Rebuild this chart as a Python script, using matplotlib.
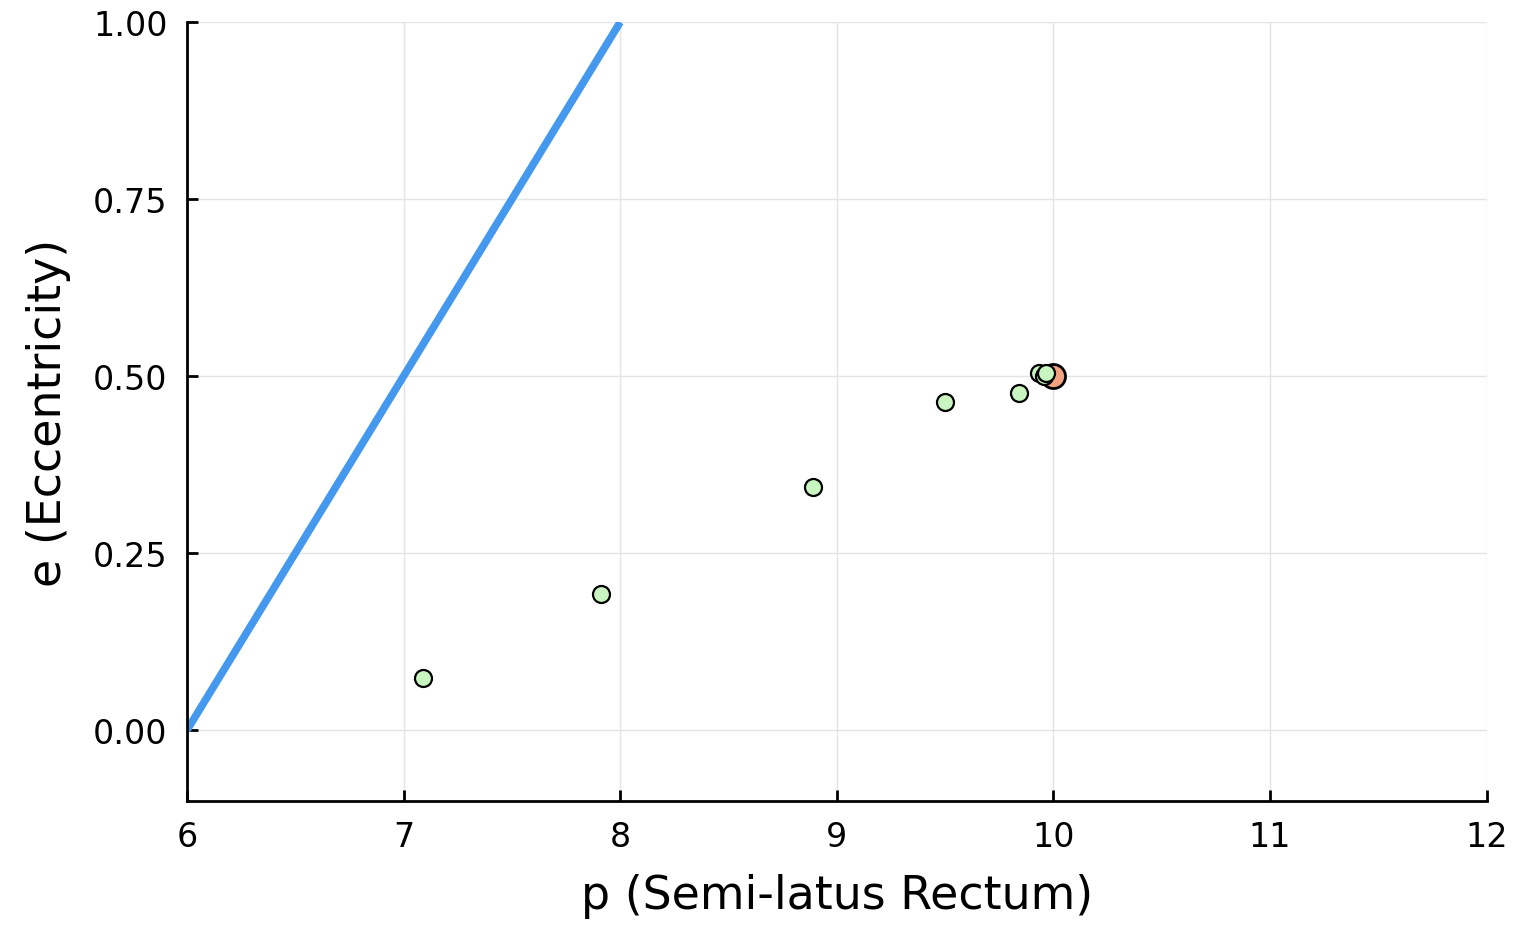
import matplotlib
matplotlib.use("Agg")
import matplotlib.pyplot as plt
import numpy as np

# separatrix e vs p (p = 6 + 2e)
sep_e = [0.0, 1.0]
sep_p = [6.0, 8.0]

# trajectory samples
traj_p = [7.09, 7.91, 8.89, 9.50, 9.84, 9.935, 9.955, 9.968]
traj_e = [0.073, 0.193, 0.344, 0.463, 0.476, 0.504, 0.500, 0.505]

# initial orbit
init_p = [10.0]
init_e = [0.5]

fig = plt.figure(figsize=(15.2, 9.28), dpi=100)
ax = fig.add_axes([0.123, 0.1358, 0.855, 0.8392])

ax.plot(sep_p, sep_e, color="#4499ee", lw=5.5, solid_capstyle="butt", zorder=2)
ax.scatter(init_p, init_e, s=300, color="#f2a27e", edgecolor="black", linewidth=2, zorder=3)
ax.scatter(traj_p, traj_e, s=150, color="#c8f5c0", edgecolor="black", linewidth=1.6, zorder=4)

ax.set_xlim(6, 12)
ax.set_ylim(-0.1, 1.0)
ax.set_xticks([6, 7, 8, 9, 10, 11, 12])
ax.set_yticks([0.0, 0.25, 0.5, 0.75, 1.0])
ax.set_yticklabels(["0.00", "0.25", "0.50", "0.75", "1.00"])
ax.grid(True, color="#e4e4e4", lw=1)
ax.set_axisbelow(True)

for s in ["top", "right"]:
    ax.spines[s].set_visible(False)
for s in ["left", "bottom"]:
    ax.spines[s].set_linewidth(2)
ax.tick_params(direction="in", length=8, width=2, pad=14, labelsize=24)

ax.set_xlabel("p (Semi-latus Rectum)", fontsize=33, labelpad=14)
ax.set_ylabel("e (Eccentricity)", fontsize=33, labelpad=16)

fig.savefig("out.png", dpi=100)
